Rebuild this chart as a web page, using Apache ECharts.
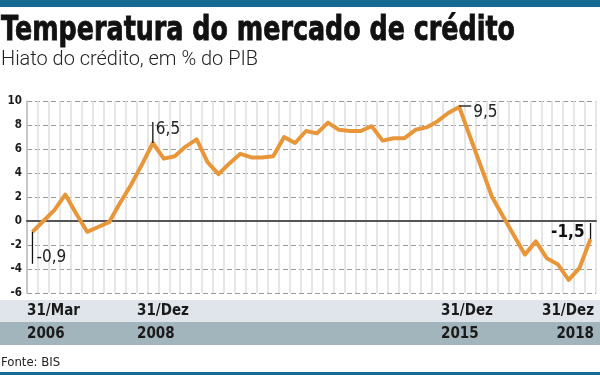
<!DOCTYPE html>
<html>
<head>
<meta charset="utf-8">
<script src="https://cdn.jsdelivr.net/npm/echarts@6/dist/echarts.min.js"></script>
<style>
  html, body { margin: 0; padding: 0; background: #fff; }
  #chart { width: 600px; height: 375px; }
</style>
</head>
<body>
<div id="chart"></div>
<script>
// trimestres, 1T06 .. 4T18
var quarters = [
  '1T06', '2T06', '3T06', '4T06', '1T07', '2T07', '3T07', '4T07',
  '1T08', '2T08', '3T08', '4T08', '1T09', '2T09', '3T09', '4T09',
  '1T10', '2T10', '3T10', '4T10', '1T11', '2T11', '3T11', '4T11',
  '1T12', '2T12', '3T12', '4T12', '1T13', '2T13', '3T13', '4T13',
  '1T14', '2T14', '3T14', '4T14', '1T15', '2T15', '3T15', '4T15',
  '1T16', '2T16', '3T16', '4T16', '1T17', '2T17', '3T17', '4T17',
  '1T18', '2T18', '3T18', '4T18'
]
// hiato do credito, % do PIB
var hiato = [
  -0.9, 0.0, 0.9, 2.2, 0.6, -0.9, -0.5, -0.1,
  1.5, 3.0, 4.7, 6.5, 5.2, 5.4, 6.2, 6.8,
  4.9, 3.9, 4.8, 5.6, 5.3, 5.3, 5.4, 7.0,
  6.5, 7.5, 7.3, 8.2, 7.6, 7.5, 7.5, 7.9,
  6.7, 6.9, 6.9, 7.6, 7.8, 8.3, 9.0, 9.5,
  7.0, 4.5, 2.0, 0.4, -1.2, -2.8, -1.7, -3.1,
  -3.6, -4.9, -3.9, -1.5
]
var yMin = -6
var yMax = 10
var yStep = 2
// rotulos do eixo x (faixas de baixo)
var tickDay = ['31/Mar', '31/Dez', '31/Dez', '31/Dez']
var tickYear = ['2006', '2008', '2015', '2018']
// destaques na linha
var calloutIdx = [0, 11, 39, 51]
var calloutText = ['-0,9', '6,5', '9,5', '-1,5']

var ORANGE = '#e8963a'
var BLUE = '#156a93'
var NARROW = "'Liberation Sans Narrow', 'DejaVu Sans Condensed', sans-serif"

var chart = echarts.init(document.getElementById('chart'), null, { renderer: 'canvas' })

var option = {
  animation: false,
  grid: { left: 27, right: 4, top: 101, bottom: 82 },
  xAxis: {
    type: 'category',
    data: quarters,
    boundaryGap: true,
    axisLine: { onZero: true, lineStyle: { color: '#555', width: 2 } },
    axisTick: { show: false },
    axisLabel: { show: false },
    splitLine: { show: true, interval: 0, lineStyle: { color: '#dedede', width: 1.5 } }
  },
  yAxis: {
    type: 'value',
    min: yMin,
    max: yMax,
    interval: yStep,
    axisLine: { show: true, lineStyle: { color: '#bdbdbd', width: 1.5 } },
    axisTick: { show: false },
    axisLabel: {
      margin: 5,
      color: '#1a1a1a',
      fontSize: 11.5,
      fontWeight: 'bold',
      fontFamily: "'DejaVu Sans Condensed', 'DejaVu Sans', sans-serif"
    },
    splitLine: { show: true, lineStyle: { color: '#9a9a9a', width: 1, type: [5, 3] } }
  },
  series: [
    {
      name: 'Hiato do crédito',
      type: 'line',
      data: hiato,
      symbol: 'none',
      z: 5,
      lineStyle: { color: ORANGE, width: 4, join: 'round' }
    }
  ]
}
chart.setOption(option)

// medir texto para ajustar a largura do titulo
var ctx = document.createElement('canvas').getContext('2d')
function fit (str, font, width) {
  ctx.font = font
  return width / ctx.measureText(str).width
}

function txt (x, y, str, font, fill, align, extra) {
  var el = {
    type: 'text',
    x: x,
    y: y,
    z: 20,
    style: {
      text: str,
      font: font,
      fill: fill,
      textAlign: align || 'left',
      align: align || 'left',
      textVerticalAlign: 'middle',
      verticalAlign: 'middle'
    }
  }
  if (extra) {
    if (extra.style) Object.assign(el.style, extra.style)
    delete extra.style
    Object.assign(el, extra)
  }
  return el
}

function seg (x1, y1, x2, y2) {
  return {
    type: 'line',
    z: 20,
    shape: { x1: x1, y1: y1, x2: x2, y2: y2 },
    style: { stroke: '#111', lineWidth: 1.3 }
  }
}

var titleFont = 'bold 34px "DejaVu Sans", sans-serif'
var subFont = '300 20px Roboto, sans-serif'
var titleStr = 'Temperatura do mercado de crédito'
var subStr = 'Hiato do crédito, em % do PIB'

var gfx = [
  { type: 'rect', z: 1, shape: { x: 0, y: 0, width: 600, height: 7 }, style: { fill: BLUE } },
  { type: 'rect', z: 1, shape: { x: 0, y: 372, width: 600, height: 3 }, style: { fill: BLUE } },
  { type: 'rect', z: 1, shape: { x: 0, y: 300, width: 600, height: 22 }, style: { fill: '#dfe5ea' } },
  { type: 'rect', z: 1, shape: { x: 0, y: 322, width: 600, height: 23 }, style: { fill: '#a3b5bc' } },
  txt(1, 31, titleStr, titleFont, '#111', 'left', {
    scaleX: fit(titleStr, titleFont, 514),
    style: { stroke: '#111', lineWidth: 0.9 }
  }),
  txt(1, 60, subStr, subFont, '#222', 'left', { scaleX: fit(subStr, subFont, 257) }),
  txt(1, 363, 'Fonte: BIS', '13px ' + NARROW, '#222')
]

// rotulos das faixas
var bandX = [27, 137, 441, 594]
for (var i = 0; i < tickDay.length; i++) {
  var al = i === tickDay.length - 1 ? 'right' : 'left'
  gfx.push(txt(bandX[i], 311, tickDay[i], 'bold 15px ' + NARROW, '#1a1a1a', al))
  gfx.push(txt(bandX[i], 334, tickYear[i], 'bold 15px ' + NARROW, '#1a1a1a', al))
}

// destaques: posicao a partir da escala do grafico
var pts = calloutIdx.map(function (k) {
  return chart.convertToPixel({ seriesIndex: 0 }, [k, hiato[k]])
})
var calloutFont = '17px ' + NARROW
// -0,9: traco para baixo
gfx.push(seg(pts[0][0], pts[0][1], pts[0][0], pts[0][1] + 32))
gfx.push(txt(pts[0][0] + 4, pts[0][1] + 26, calloutText[0], calloutFont, '#222'))
// 6,5: traco para cima
gfx.push(seg(pts[1][0], pts[1][1], pts[1][0], pts[1][1] - 21))
gfx.push(txt(pts[1][0] + 3, pts[1][1] - 13, calloutText[1], calloutFont, '#222'))
// 9,5: traco horizontal
gfx.push(seg(pts[2][0], pts[2][1] - 1, pts[2][0] + 12, pts[2][1] - 1))
gfx.push(txt(pts[2][0] + 14, pts[2][1] + 6, calloutText[2], calloutFont, '#222'))
// -1,5: traco para cima, rotulo em negrito
gfx.push(seg(pts[3][0], pts[3][1], pts[3][0], pts[3][1] - 16))
gfx.push(txt(pts[3][0] - 6, pts[3][1] - 6, calloutText[3], 'bold 17px ' + NARROW, '#111', 'right'))

chart.setOption({ graphic: gfx })
</script>
</body>
</html>
